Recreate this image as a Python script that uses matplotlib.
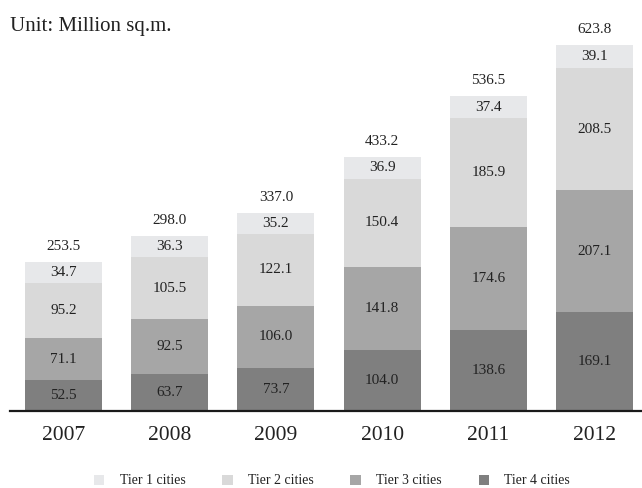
import matplotlib
matplotlib.use("Agg")
import matplotlib.pyplot as plt
from matplotlib.patches import Patch

plt.rcParams['font.family'] = ['Liberation Serif', 'DejaVu Serif']

years = ["2007", "2008", "2009", "2010", "2011", "2012"]
tier4 = [52.5, 63.7, 73.7, 104.0, 138.6, 169.1]
tier3 = [71.1, 92.5, 106.0, 141.8, 174.6, 207.1]
tier2 = [95.2, 105.5, 122.1, 150.4, 185.9, 208.5]
tier1 = [34.7, 36.3, 35.2, 36.9, 37.4, 39.1]
totals = [253.5, 298.0, 337.0, 433.2, 536.5, 623.8]
series_names = ["Tier 1 cities", "Tier 2 cities", "Tier 3 cities", "Tier 4 cities"]

colors = {"Tier 1 cities": "#e7e8ea", "Tier 2 cities": "#d9d9d9",
          "Tier 3 cities": "#a6a6a6", "Tier 4 cities": "#7f7f7f"}
txt_color = "#222222"

fig = plt.figure(figsize=(6.42, 4.88), dpi=100)
W, H = 642, 488
ax = fig.add_axes([10 / W, 77 / H, 632 / W, 411 / H])

step = 106.2
x = list(range(len(years)))
ax.set_xlim((10 - 63.5) / step, (642 - 63.5) / step)
ax.set_ylim(0, 411 / 0.5867)
width = 77 / step

stack = [("Tier 4 cities", tier4), ("Tier 3 cities", tier3),
         ("Tier 2 cities", tier2), ("Tier 1 cities", tier1)]
bottom = [0.0] * len(years)
for name, vals in stack:
    ax.bar(x, vals, width=width, bottom=bottom, color=colors[name],
           edgecolor="none", zorder=2)
    for i, v in enumerate(vals):
        ax.text(x[i], bottom[i] + v / 2, f"{v:.1f}", ha="center", va="center",
                fontsize=11, color=txt_color, zorder=3)
    bottom = [b + v for b, v in zip(bottom, vals)]

for i, t in enumerate(totals):
    ax.annotate(f"{t:.1f}", (x[i], bottom[i]), xytext=(0, 8.5),
                textcoords="offset points", ha="center", va="baseline",
                fontsize=11, color=txt_color)

for s in ["top", "right", "left"]:
    ax.spines[s].set_visible(False)
ax.spines["bottom"].set_linewidth(1.6)
ax.spines["bottom"].set_color("#1a1a1a")
ax.set_yticks([])
ax.set_xticks(x)
ax.set_xticklabels(years, fontsize=15.5, color=txt_color)
ax.tick_params(axis="x", length=0, pad=11)

fig.text(10 / W, 1 - 27 / H, "Unit: Million sq.m.", fontsize=15,
         color=txt_color, va="center", ha="left")

handles = [Patch(facecolor=colors[n], edgecolor="none") for n in series_names]
fig.legend(handles, series_names, loc="center", bbox_to_anchor=(332 / W, 1 - 481 / H),
           ncol=4, frameon=False, fontsize=10, handlelength=0.75, handleheight=0.75,
           handletextpad=1.1, columnspacing=2.65, labelcolor=txt_color)

fig.savefig("out.png", dpi=100)
